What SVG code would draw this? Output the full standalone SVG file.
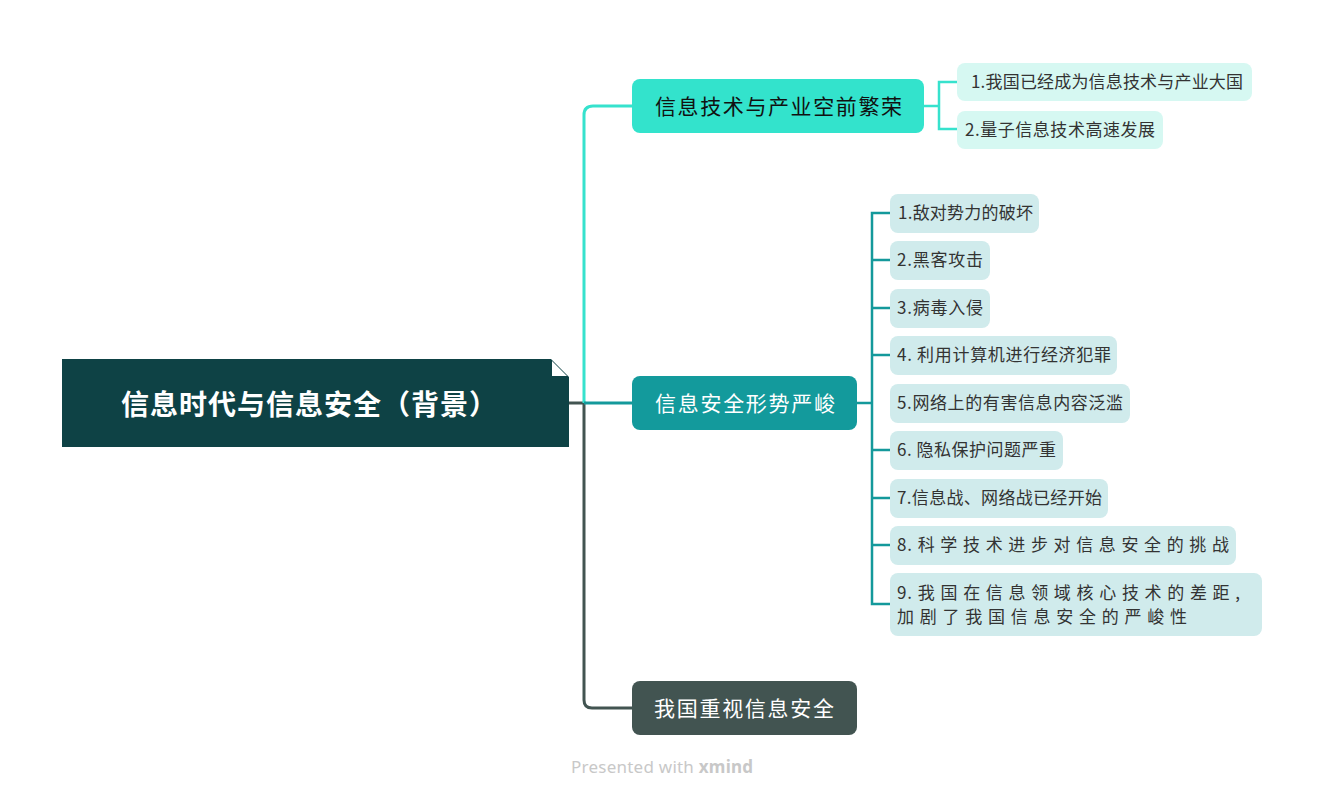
<svg xmlns="http://www.w3.org/2000/svg" width="1325" height="798" viewBox="0 0 1325 798">
<style>
.f{font-family:"Noto Sans CJK SC","Noto Sans",sans-serif}
.root{font-size:28px;font-weight:bold;fill:#fff}
.main{font-size:21px}
.sub{font-size:17px;fill:#333}
.c{fill:none;stroke-linecap:butt;stroke-linejoin:miter}
</style>
<rect width="1325" height="798" fill="#fff"/>
<g id="connectors">
  <path class="c" d="M569 403 H584 V700 Q584 708 592 708 H632" stroke="#425451" stroke-width="3"/>
  <path class="c" d="M584 403 V115 Q584 106 593 106 H632" stroke="#36E2CD" stroke-width="3"/>
  <path class="c" d="M584 403 H632" stroke="#14999B" stroke-width="3"/>
  <path class="c" d="M924 106 H939 M957 82 H939 V129 H957" stroke="#36E2CD" stroke-width="2.5"/>
  <path class="c" d="M857 403 H872 M890 213 H872 V604 H890 M872 260 H890 M872 308 H890 M872 355 H890 M872 450 H890 M872 498 H890 M872 545 H890" stroke="#14999B" stroke-width="2.5"/>
</g>
<g id="root">
  <polygon points="62,359 551,359 569,377 569,447 62,447" fill="#0E4245"/>
  <polygon points="552,361 552,376 567,376" fill="#fff"/>
  <text class="f root" x="121" y="415" textLength="376" lengthAdjust="spacing">信息时代与信息安全（背景）</text>
</g>
<g id="n1">
  <rect x="632" y="79" width="292" height="54" rx="8" fill="#33E3CC"/>
  <text class="f main" x="655" y="114" textLength="247" lengthAdjust="spacing" fill="#111">信息技术与产业空前繁荣</text>
</g>
<g id="n1c1">
  <rect x="957" y="63" width="295" height="38" rx="8" fill="#D6F8F2"/>
  <text class="f sub" x="971" y="88" textLength="272" lengthAdjust="spacing">1.我国已经成为信息技术与产业大国</text>
</g>
<g id="n1c2">
  <rect x="957" y="111" width="206" height="38" rx="8" fill="#D6F8F2"/>
  <text class="f sub" x="965" y="136" textLength="190" lengthAdjust="spacing">2.量子信息技术高速发展</text>
</g>
<g id="n2">
  <rect x="632" y="376" width="225" height="54" rx="8" fill="#139A9C"/>
  <text class="f main" x="655" y="411" textLength="180" lengthAdjust="spacing" fill="#fff">信息安全形势严峻</text>
</g>
<g id="n2c1">
  <rect x="890" y="194" width="149" height="39" rx="8" fill="#D0EBEC"/>
  <text class="f sub" x="898" y="219" textLength="135" lengthAdjust="spacing">1.敌对势力的破坏</text>
</g>
<g id="n2c2">
  <rect x="890" y="241" width="100" height="39" rx="8" fill="#D0EBEC"/>
  <text class="f sub" x="897" y="266" textLength="86" lengthAdjust="spacing">2.黑客攻击</text>
</g>
<g id="n2c3">
  <rect x="890" y="289" width="100" height="39" rx="8" fill="#D0EBEC"/>
  <text class="f sub" x="897" y="314" textLength="86" lengthAdjust="spacing">3.病毒入侵</text>
</g>
<g id="n2c4">
  <rect x="890" y="336" width="227" height="39" rx="8" fill="#D0EBEC"/>
  <text class="f sub" x="897" y="361" textLength="214" lengthAdjust="spacing">4. 利用计算机进行经济犯罪</text>
</g>
<g id="n2c5">
  <rect x="890" y="384" width="240" height="39" rx="8" fill="#D0EBEC"/>
  <text class="f sub" x="897" y="409" textLength="226" lengthAdjust="spacing">5.网络上的有害信息内容泛滥</text>
</g>
<g id="n2c6">
  <rect x="890" y="431" width="173" height="39" rx="8" fill="#D0EBEC"/>
  <text class="f sub" x="897" y="456" textLength="159" lengthAdjust="spacing">6. 隐私保护问题严重</text>
</g>
<g id="n2c7">
  <rect x="890" y="479" width="218" height="39" rx="8" fill="#D0EBEC"/>
  <text class="f sub" x="897" y="504" textLength="205" lengthAdjust="spacing">7.信息战、网络战已经开始</text>
</g>
<g id="n2c8">
  <rect x="890" y="526" width="346" height="39" rx="8" fill="#D0EBEC"/>
  <text class="f sub" x="897" y="551" textLength="332" lengthAdjust="spacing">8. 科 学 技 术 进 步 对 信 息 安 全 的 挑 战</text>
</g>
<g id="n2c9">
  <rect x="890" y="573" width="372" height="63" rx="8" fill="#D0EBEC"/>
  <text class="f sub" x="897" y="599" textLength="343" lengthAdjust="spacing">9. 我 国 在 信 息 领 域 核 心 技 术 的 差 距 ,</text>
  <text class="f sub" x="897" y="623" textLength="290" lengthAdjust="spacing">加 剧 了 我 国 信 息 安 全 的 严 峻 性</text>
</g>
<g id="n3">
  <rect x="632" y="681" width="225" height="54" rx="8" fill="#425451"/>
  <text class="f main" x="654" y="716" textLength="180" lengthAdjust="spacing" fill="#fff">我国重视信息安全</text>
</g>
<g id="footer">
  <text x="571" y="773" font-family="'Noto Sans',sans-serif" font-size="17" fill="#C8C8C8" textLength="182" lengthAdjust="spacing">Presented with <tspan font-weight="bold">xmind</tspan></text>
</g>
</svg>
